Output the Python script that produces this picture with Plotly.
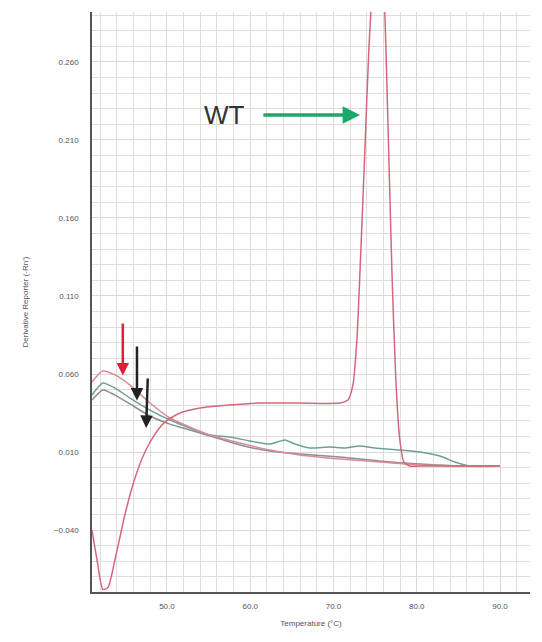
import plotly.graph_objects as go

# ---- data ----
wt_temp = [41.0, 41.6, 42.3, 42.9, 43.76, 44.96, 46.16, 47.36, 48.56, 49.76, 51.56, 53.96,
           57.56, 61.16, 65.97, 70.77, 71.73, 72.33, 72.81, 73.29, 73.77, 74.25, 74.85,
           75.45, 76.05, 76.53, 77.01, 77.49, 77.97, 78.45, 79.17, 80.37, 89.98]
wt_val = [-0.040, -0.059, -0.078, -0.077, -0.059, -0.030, -0.0067, 0.010, 0.0215, 0.0292,
          0.035, 0.0382, 0.0401, 0.0414, 0.0414, 0.0414, 0.0433, 0.0529, 0.0818, 0.1395,
          0.2036, 0.268, 0.319, 0.34, 0.306, 0.223, 0.127, 0.056, 0.0177, 0.0036, 0.001,
          0.001, 0.001]

mut1_temp = [41.0, 42.3, 43.76, 45.56, 47.96, 50.36, 52.76, 55.16, 58.76, 62.36, 65.97,
             70.77, 75.57, 80.37, 89.98]
mut1_val = [0.0549, 0.0619, 0.0594, 0.0529, 0.0414, 0.0318, 0.0260, 0.0209, 0.0158,
            0.0113, 0.0081, 0.0055, 0.0036, 0.0017, 0.0010]

mut2_temp = [41.0, 42.3, 43.76, 45.56, 47.96, 50.36, 52.76, 55.16, 57.56, 59.96, 62.36,
             64.17, 65.37, 67.17, 69.57, 71.37, 73.17, 74.97, 77.97, 80.37, 82.77, 84.57,
             86.37, 89.98]
mut2_val = [0.0465, 0.0542, 0.0510, 0.0446, 0.0369, 0.0305, 0.0254, 0.0209, 0.0196,
            0.0171, 0.0151, 0.0177, 0.0151, 0.0126, 0.0132, 0.0126, 0.0138, 0.0126,
            0.0113, 0.0100, 0.0074, 0.0036, 0.0010, 0.0010]

mut3_temp = [41.0, 42.3, 43.76, 45.56, 47.96, 50.36, 52.76, 55.16, 58.76, 62.36, 65.97,
             70.77, 75.57, 80.37, 85.17, 89.98]
mut3_val = [0.0433, 0.0497, 0.0465, 0.0408, 0.0331, 0.0279, 0.0241, 0.0203, 0.0145,
            0.0106, 0.0087, 0.0068, 0.0042, 0.0023, 0.0010, 0.0010]

x_ticks = [50, 60, 70, 80, 90]
y_ticks = [-0.04, 0.01, 0.06, 0.11, 0.16, 0.21, 0.26]

fig = go.Figure()
series = [
    (mut3_temp, mut3_val, "#8e8e8e"),
    (mut2_temp, mut2_val, "#6e9f99"),
    (mut1_temp, mut1_val, "#d98b98"),
    (wt_temp, wt_val, "#d4687a"),
]
for xs, ys, c in series:
    fig.add_trace(go.Scatter(x=xs, y=ys, mode="lines",
                             line=dict(color=c, width=1.5, shape="spline", smoothing=0.6),
                             showlegend=False, hoverinfo="skip"))

# annotations
fig.add_annotation(x=56.9, y=0.226, text="WT", showarrow=False,
                   font=dict(size=26, color="#333333", family="Liberation Sans, Arial"))
fig.add_annotation(x=73.2, y=0.226, ax=61.4, ay=0.226, xref="x", yref="y", axref="x", ayref="y",
                   text="", showarrow=True, arrowhead=2, arrowsize=1, arrowwidth=3.5, arrowcolor="#1aa96a")
fig.add_annotation(x=44.7, y=0.059, ax=44.7, ay=0.0933, xref="x", yref="y", axref="x", ayref="y",
                   text="", showarrow=True, arrowhead=2, arrowsize=1, arrowwidth=2.5, arrowcolor="#e0203a")
fig.add_annotation(x=46.4, y=0.043, ax=46.4, ay=0.0786, xref="x", yref="y", axref="x", ayref="y",
                   text="", showarrow=True, arrowhead=2, arrowsize=1, arrowwidth=2.5, arrowcolor="#222222")
fig.add_annotation(x=47.5, y=0.0254, ax=47.7, ay=0.0581, xref="x", yref="y", axref="x", ayref="y",
                   text="", showarrow=True, arrowhead=2, arrowsize=1, arrowwidth=2.5, arrowcolor="#222222")

fig.update_layout(
    width=542, height=642,
    margin=dict(l=92, r=12, t=12, b=50, pad=0),
    paper_bgcolor="white", plot_bgcolor="white",
    font=dict(family="Liberation Sans, Arial", size=8, color="#555555"),
)
fig.update_xaxes(
    automargin=False,
    range=[41.0, 93.6], tickvals=x_ticks, tickformat=".1f",
    showgrid=True, gridcolor="#d9d9d9", gridwidth=1,
    minor=dict(dtick=2, tick0=50, showgrid=True, gridcolor="#dedede", gridwidth=1),
    showline=True, linecolor="#555555", linewidth=1.5, zeroline=False,
    ticks="", ticklabelstandoff=6,
    title=dict(text="Temperature (°C)", font=dict(size=8, color="#555555"), standoff=10),
)
fig.update_yaxes(
    automargin=False,
    range=[-0.0797, 0.292], tickvals=y_ticks, tickformat=".3f",
    showgrid=True, gridcolor="#d9d9d9", gridwidth=1,
    minor=dict(dtick=0.01, tick0=0.01, showgrid=True, gridcolor="#dedede", gridwidth=1),
    showline=True, linecolor="#555555", linewidth=1.5, zeroline=False,
    ticks="", ticklabelstandoff=10,
    title=dict(text="Derivative Reporter (-Rn')", font=dict(size=8, color="#555555"), standoff=24),
)

fig.write_html("out.html", config={"displayModeBar": False},
               post_script="document.body.style.margin='0';")
